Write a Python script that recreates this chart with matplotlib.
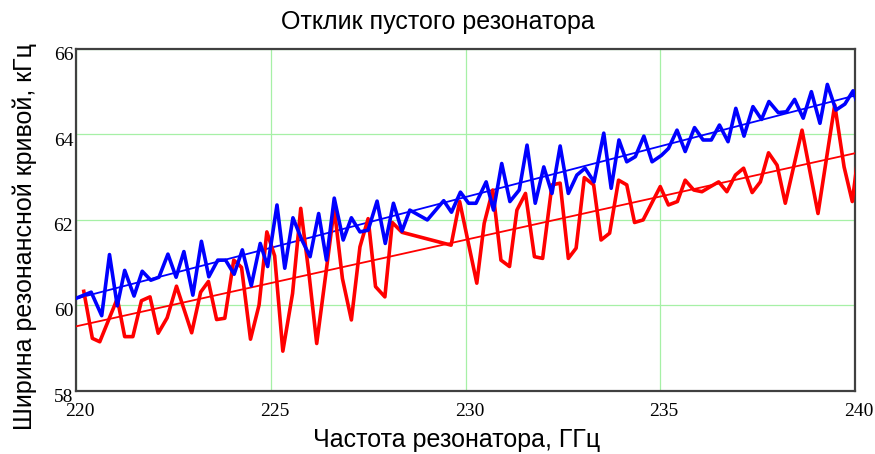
import numpy as np
import matplotlib
matplotlib.use("Agg")
import matplotlib.pyplot as plt
import matplotlib.transforms as mtrans

# blue curve
blue_f = [220.01, 220.39, 220.66, 220.86, 221.06, 221.25, 221.49, 221.70, 221.92, 222.13,
          222.36, 222.57, 222.77, 223.00, 223.22, 223.41, 223.64, 223.84, 224.06, 224.27,
          224.50, 224.73, 224.92, 225.16, 225.36, 225.57, 225.80, 226.01, 226.23, 226.43,
          226.63, 226.86, 227.07, 227.29, 227.50, 227.73, 227.94, 228.15, 228.37, 228.57,
          229.02, 229.44, 229.64, 229.87, 230.08, 230.27, 230.53, 230.72, 230.93, 231.14,
          231.38, 231.58, 231.79, 232.01, 232.22, 232.43, 232.64, 232.86, 233.07, 233.30,
          233.55, 233.74, 233.94, 234.14, 234.36, 234.58, 234.79, 235.03, 235.21, 235.43,
          235.64, 235.88, 236.10, 236.31, 236.52, 236.74, 236.94, 237.15, 237.38, 237.60,
          237.79, 238.03, 238.24, 238.45, 238.67, 238.88, 239.10, 239.29, 239.51, 239.74,
          239.95, 240.12]
blue_w = [60.16, 60.30, 59.75, 61.18, 59.98, 60.81, 60.21, 60.79, 60.58, 60.65,
          61.19, 60.65, 61.25, 60.23, 61.49, 60.66, 61.05, 61.05, 60.72, 61.29,
          60.45, 61.44, 60.90, 62.34, 60.86, 62.04, 61.52, 61.13, 62.14, 61.05,
          62.50, 61.52, 62.04, 61.71, 61.75, 62.43, 61.44, 62.38, 61.73, 62.22,
          61.99, 62.44, 62.17, 62.64, 62.38, 62.38, 62.88, 62.22, 63.31, 62.42,
          62.69, 63.74, 62.38, 63.23, 62.61, 63.72, 62.61, 63.04, 63.20, 62.88,
          64.02, 62.73, 63.86, 63.35, 63.47, 63.95, 63.35, 63.50, 63.66, 64.09,
          63.59, 64.15, 63.86, 63.86, 64.21, 63.82, 64.60, 63.95, 64.64, 64.34,
          64.76, 64.50, 64.52, 64.81, 64.37, 64.99, 64.25, 65.16, 64.56, 64.70,
          65.01, 64.56]

# red curve
red_f = [220.20, 220.42, 220.61, 221.06, 221.25, 221.46, 221.68, 221.90, 222.11, 222.34,
         222.58, 222.97, 223.20, 223.40, 223.61, 223.82, 224.05, 224.25, 224.48, 224.70,
         224.90, 225.10, 225.31, 225.56, 225.77, 225.98, 226.18, 226.41, 226.63, 226.84,
         227.07, 227.29, 227.50, 227.69, 227.93, 228.12, 228.37, 229.63, 229.85, 230.29,
         230.48, 230.70, 230.91, 231.13, 231.32, 231.54, 231.77, 231.98, 232.22, 232.43,
         232.64, 232.84, 233.05, 233.29, 233.48, 233.70, 233.93, 234.14, 234.34, 234.56,
         235.00, 235.21, 235.44, 235.64, 235.86, 236.07, 236.29, 236.50, 236.71, 236.93,
         237.14, 237.36, 237.57, 237.78, 238.00, 238.21, 238.64, 239.05, 239.48, 239.72,
         239.93, 240.12]
red_w = [60.32, 59.22, 59.14, 60.15, 59.26, 59.26, 60.10, 60.19, 59.34, 59.70,
         60.44, 59.35, 60.30, 60.55, 59.66, 59.69, 61.05, 60.88, 59.20, 60.00,
         61.71, 61.15, 58.92, 60.27, 62.26, 60.74, 59.10, 60.70, 62.26, 60.62,
         59.65, 61.36, 62.02, 60.43, 60.19, 61.93, 61.70, 61.40, 62.42, 60.51,
         61.91, 62.69, 61.05, 60.90, 62.22, 62.61, 61.13, 61.09, 62.81, 62.85,
         61.09, 61.33, 62.98, 62.81, 61.52, 61.68, 62.92, 62.81, 61.93, 61.99,
         62.77, 62.34, 62.42, 62.92, 62.69, 62.65, 62.77, 62.88, 62.65, 63.04,
         63.20, 62.63, 62.88, 63.56, 63.27, 62.38, 64.09, 62.14, 64.68, 63.23,
         62.42, 63.78]

# linear trends (end points)
trend_f = [220.0, 240.0]
blue_trend = [60.15, 64.90]
red_trend = [59.50, 63.55]

xticks = [220, 225, 230, 235, 240]
yticks = [58, 60, 62, 64, 66]

plt.rcParams['font.family'] = ['Liberation Sans', 'DejaVu Sans']

fig = plt.figure(figsize=(8.75, 4.54), dpi=100)
ax = fig.add_axes([76/875, 1-390.5/454, (855-76)/875, (390.5-48.5)/454])

ax.plot(trend_f, blue_trend, color='#0000ff', lw=1.3, zorder=3)
ax.plot(trend_f, red_trend, color='#ff0000', lw=1.3, zorder=3)
ax.plot(red_f, red_w, color='#ff0000', lw=2.6, zorder=4)
ax.plot(blue_f, blue_w, color='#0000ff', lw=2.6, zorder=5)

ax.set_xlim(220, 240)
ax.set_ylim(58, 66)
ax.set_xticks(xticks)
ax.set_yticks(yticks)
ax.grid(True, color='#a6f0a6', lw=0.9)
ax.tick_params(length=0, labelsize=14)
ax.tick_params(axis='x', pad=9)
ax.tick_params(axis='y', pad=2)
for lab in ax.get_xticklabels() + ax.get_yticklabels():
    lab.set_family(['Liberation Serif'])
for sp in ax.spines.values():
    sp.set_color('#404040')
    sp.set_linewidth(1.6)

dx = mtrans.ScaledTranslation(4/100, 0, fig.dpi_scale_trans)
dy = mtrans.ScaledTranslation(0, -5/100, fig.dpi_scale_trans)
for lab in ax.get_xticklabels():
    lab.set_transform(lab.get_transform() + dx)
for lab in ax.get_yticklabels():
    lab.set_transform(lab.get_transform() + dy)

fig.text(438/875, 1-22/454, "Отклик пустого резонатора", ha='center', va='center', fontsize=18)
fig.text(457/875, 1-440/454, "Частота резонатора, ГГц", ha='center', va='center', fontsize=18)
fig.text(25/875, 1-237/454, "Ширина резонансной кривой, кГц", ha='center', va='center',
         rotation=90, fontsize=18)

fig.savefig("out.png", dpi=100)
